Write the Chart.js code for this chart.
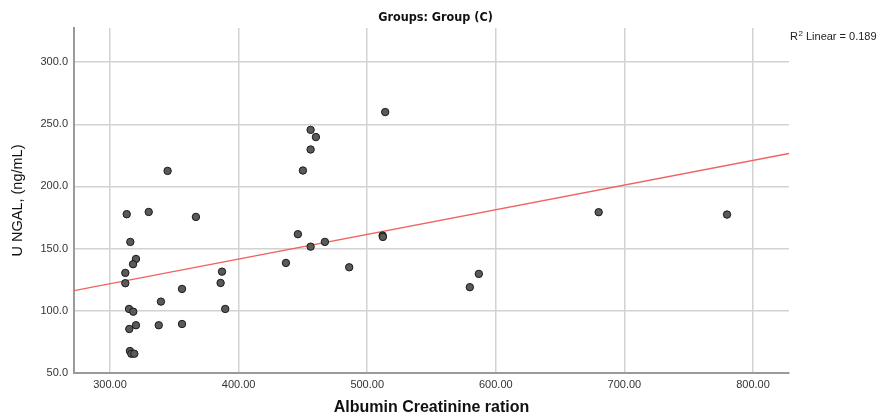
<!DOCTYPE html>
<html>
<head>
<meta charset="utf-8">
<script src="https://cdn.jsdelivr.net/npm/chart.js@4"></script>
<style>
  html, body { margin: 0; padding: 0; background: #ffffff; }
  #wrap { width: 877px; height: 418px; position: relative; }
</style>
</head>
<body>
<div id="wrap"><canvas id="c" width="877" height="418"></canvas></div>
<script>
// ---- data ----
const albuminCreatinine = [
  344.8, 313.0, 330.1, 366.8, 315.8, 320.2, 317.9, 311.9, 311.9, 387.1,
  386.0, 356.0, 339.6, 314.8, 318.1, 389.6, 320.2, 315.0, 337.9, 356.0,
  315.5, 316.6, 318.9, 514.0, 456.0, 460.1, 456.0, 450.0, 446.1, 456.0,
  467.1, 436.8, 486.0, 512.0, 512.2, 586.8, 579.8, 680.0, 779.8
];
const uNgal = [
  212.5, 177.7, 179.5, 175.5, 155.4, 141.7, 137.5, 130.5, 122.2, 131.5,
  122.4, 117.6, 107.4, 101.5, 99.3, 101.5, 88.4, 85.4, 88.4, 89.4,
  67.7, 65.5, 65.5, 259.8, 245.5, 239.7, 229.7, 212.8, 161.6, 151.6,
  155.4, 138.5, 135.0, 160.5, 159.4, 129.7, 119.0, 179.3, 177.4
];
const fitLineX = [272, 828];
const fitLineY = [116.2, 226.5];
const xTickValues = [300, 400, 500, 600, 700, 800];
const yTickValues = [50, 100, 150, 200, 250, 300];
const rSquaredLabel = "0.189";
const chartTitle = "Groups: Group (C)";
const xTitle = "Albumin Creatinine ration";
const yTitle = "U NGAL, (ng/mL)";

const points = albuminCreatinine.map((x, i) => ({ x: x, y: uNgal[i] }));
const fitPoints = fitLineX.map((x, i) => ({ x: x, y: fitLineY[i] }));

const textPlugin = {
  id: 'texts',
  afterDraw(chart) {
    const ctx = chart.ctx;
    const area = chart.chartArea;
    ctx.save();
    // chart title, centred over the plot like the reference
    ctx.fillStyle = '#111111';
    ctx.textBaseline = 'middle';
    ctx.textAlign = 'center';
    ctx.font = 'bold 12.5px "Liberation Sans Narrow", "DejaVu Sans Condensed", "Liberation Sans", sans-serif';
    ctx.fillText(chartTitle, (area.left + area.right) / 2 + 4, 18);
    // R² label
    const x0 = area.right + 1;
    const y0 = 37;
    ctx.fillStyle = '#222222';
    ctx.textAlign = 'left';
    ctx.font = '11px "Liberation Sans", Arial, sans-serif';
    ctx.fillText('R', x0, y0);
    const wR = ctx.measureText('R').width;
    ctx.font = '8px "Liberation Sans", Arial, sans-serif';
    ctx.fillText('2', x0 + wR + 0.5, y0 - 3.5);
    const w2 = ctx.measureText('2').width;
    ctx.font = '11px "Liberation Sans", Arial, sans-serif';
    ctx.fillText(' Linear = ' + rSquaredLabel, x0 + wR + 0.5 + w2, y0);
    ctx.restore();
  }
};

const bgPlugin = {
  id: 'bg',
  beforeDraw(chart) {
    const ctx = chart.ctx;
    ctx.save();
    ctx.fillStyle = '#ffffff';
    ctx.fillRect(0, 0, chart.width, chart.height);
    ctx.restore();
  }
};

new Chart(document.getElementById('c'), {
  type: 'scatter',
  data: {
    datasets: [
      {
        label: 'Fit',
        type: 'line',
        data: fitPoints,
        showLine: true,
        borderColor: 'rgba(240,90,90,0.95)',
        borderWidth: 1.3,
        pointRadius: 0,
        fill: false,
        order: 2
      },
      {
        label: 'U NGAL',
        data: points,
        backgroundColor: '#5a5a5a',
        borderColor: '#1a1a1a',
        borderWidth: 1,
        pointRadius: 3.7,
        order: 1
      }
    ]
  },
  options: {
    responsive: false,
    animation: false,
    devicePixelRatio: 1,
    layout: { padding: { left: 0, right: 88, top: 28, bottom: 0 } },
    plugins: {
      legend: { display: false },
      tooltip: { enabled: false },
      title: { display: false }
    },
    scales: {
      x: {
        type: 'linear',
        min: 272,
        max: 828,
        afterBuildTicks(scale) { scale.ticks = xTickValues.map(v => ({ value: v })); },
        afterFit(scale) { scale.height = 45; },
        grid: { color: '#d2d2d2', lineWidth: 1.5, drawTicks: false },
        border: { color: '#9a9a9a', width: 2 },
        ticks: {
          padding: 5,
          color: '#333333',
          font: { family: '"Liberation Sans", Arial, sans-serif', size: 11 },
          callback: v => Number(v).toFixed(2)
        },
        title: {
          display: true,
          text: xTitle,
          color: '#111111',
          font: { family: '"Liberation Sans", Arial, sans-serif', size: 16, weight: 'bold', lineHeight: 1.2 },
          padding: { top: 0, bottom: 1 }
        }
      },
      y: {
        type: 'linear',
        min: 50,
        max: 327.4,
        afterBuildTicks(scale) { scale.ticks = yTickValues.map(v => ({ value: v })); },
        afterFit(scale) { scale.width = 74; },
        grid: { color: '#d2d2d2', lineWidth: 1.5, drawTicks: false },
        border: { color: '#9a9a9a', width: 2 },
        ticks: {
          padding: 6,
          color: '#333333',
          font: { family: '"Liberation Sans", Arial, sans-serif', size: 11 },
          callback: v => Number(v).toFixed(1)
        },
        title: {
          display: true,
          text: yTitle,
          color: '#111111',
          font: { family: '"Liberation Sans", Arial, sans-serif', size: 14.5, lineHeight: 1.2 },
          padding: { top: 9.5, bottom: 0 }
        }
      }
    }
  },
  plugins: [bgPlugin, textPlugin]
});
</script>
</body>
</html>
